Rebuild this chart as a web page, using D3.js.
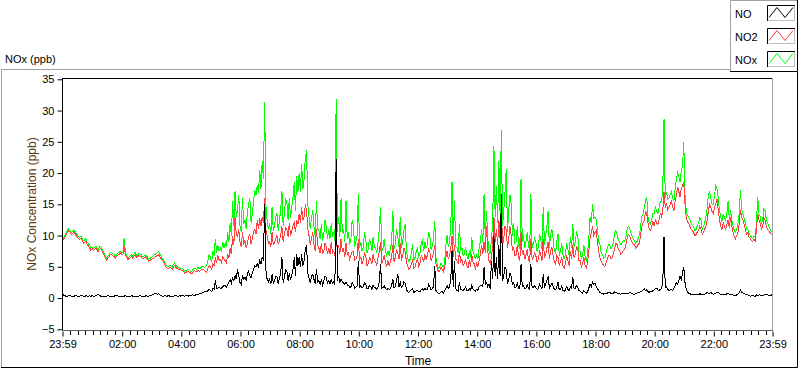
<!DOCTYPE html>
<html><head><meta charset="utf-8">
<script src="https://cdn.jsdelivr.net/npm/d3@7"></script>
<style>
html,body{margin:0;padding:0;background:#fff;}
svg{display:block;font-family:"Liberation Sans",Arial,sans-serif;}
</style>
</head><body>
<svg id="chart" width="800" height="369"></svg>
<script>
// ---------------- DATA ----------------
const seriesNames = ["NO", "NO2", "NOx"];
const startTime = new Date(2020, 0, 1, 23, 59);   // first sample 23:59
const stepSeconds = 150;                            // 2.5-minute samples
const xTickLabels = ["23:59","02:00","04:00","06:00","08:00","10:00","12:00","14:00","16:00","18:00","20:00","22:00","23:59"];
const yTickValues = [-5, 0, 5, 10, 15, 20, 25, 30, 35];

// NO2 (ppb), one row per hour (24 samples)
const NO2 = [
9.5,9.3,9.7,10.2,10.5,10.8,10.6,10.2,10.3,10.6,10.4,10.0,9.8,9.5,9.4,9.6,9.2,8.8,8.9,9.1,8.6,8.3,8.1,7.6,
7.9,7.6,7.8,8.0,7.7,7.4,7.8,7.9,7.5,7.1,6.8,6.3,6.0,6.4,6.7,7.0,6.9,6.7,6.6,6.4,6.7,6.9,7.0,7.2,
7.0,6.9,8.3,7.0,6.5,6.2,6.3,6.5,6.6,6.4,6.7,6.9,6.5,6.6,6.8,6.7,6.6,6.3,6.4,6.6,6.5,6.2,5.9,6.0,
6.2,6.3,6.4,6.6,6.7,6.8,6.9,6.6,6.3,6.0,5.8,5.4,5.0,4.8,4.7,4.9,4.8,4.6,5.0,5.2,4.9,4.7,4.6,4.5,
4.5,4.4,4.3,4.0,4.1,4.2,4.3,4.1,4.0,3.9,4.2,4.4,4.3,4.2,4.5,4.3,4.4,4.6,4.6,4.4,4.3,4.1,4.8,5.2,
5.0,4.6,5.5,5.2,6.5,5.6,6.8,6.0,6.2,5.7,6.6,6.2,6.0,5.6,7.0,6.4,8.0,7.0,10.0,8.5,13.0,10.0,9.8,11.0,
9.0,8.2,10.5,8.8,9.2,8.0,8.8,9.8,10.2,8.6,9.5,10.5,11.0,10.2,12.5,11.0,12.8,11.5,13.0,12.0,16.0,11.0,10.0,8.8,
9.0,8.2,10.5,8.5,8.8,9.5,10.0,8.6,9.2,10.0,11.5,9.0,10.2,11.2,11.0,9.8,12.0,10.0,10.8,11.5,12.0,10.5,12.5,11.8,
13.5,12.0,14.5,12.5,13.0,15.0,14.0,11.0,10.0,8.5,9.5,10.5,8.5,7.6,11.0,8.5,8.0,7.2,8.8,7.0,7.5,8.8,8.2,7.0,
8.0,7.0,9.0,7.2,7.5,6.8,10.0,7.5,8.5,7.0,9.5,7.5,7.8,6.5,8.8,7.0,7.2,6.2,6.8,7.5,7.5,6.0,6.2,6.8,
9.5,6.0,6.5,5.5,6.0,7.2,6.8,5.2,5.5,6.5,6.2,5.4,7.0,6.0,5.8,5.2,6.5,7.5,9.0,5.5,6.0,6.8,5.8,5.0,
6.0,5.2,5.8,6.5,8.5,5.8,6.5,7.8,7.2,6.2,8.8,6.0,6.8,8.0,7.5,5.8,5.2,4.6,4.8,5.5,6.0,4.8,5.0,5.8,
6.2,5.0,5.5,6.8,6.5,5.8,7.0,6.2,6.8,7.8,7.5,6.0,6.5,7.2,8.5,5.5,4.8,4.2,4.3,4.9,4.6,4.2,4.8,6.5,
7.5,6.2,6.8,8.0,10.0,6.5,8.5,6.2,6.0,5.5,7.5,5.8,6.2,5.2,5.5,6.2,5.2,4.8,6.0,5.0,7.0,5.8,5.5,4.8,
5.5,5.0,6.0,7.0,8.5,7.0,9.0,7.2,11.5,7.5,6.0,5.5,6.5,8.5,13.0,9.0,11.0,8.5,12.5,9.5,14.5,8.5,9.5,11.5,
11.0,8.0,9.5,11.5,10.0,7.5,8.0,6.8,7.0,8.5,6.5,6.0,10.5,7.0,7.5,6.2,6.8,7.8,6.2,5.8,9.5,6.2,6.5,7.2,
6.8,5.8,6.2,7.5,7.0,6.0,9.5,6.5,7.0,8.0,9.0,6.2,7.5,8.2,6.8,5.8,5.5,6.8,6.5,5.2,5.8,6.5,5.2,4.8,
5.5,6.8,6.0,5.2,7.5,6.2,8.5,6.5,7.0,8.2,8.0,6.0,6.0,5.0,5.5,6.5,5.2,4.8,5.8,7.5,9.5,10.5,11.5,10.0,
10.5,10.8,9.0,7.5,6.5,5.8,5.5,5.2,5.0,5.6,6.2,6.8,6.8,6.2,6.5,7.2,8.0,8.8,8.5,7.8,7.5,7.0,7.2,7.6,
7.8,8.5,9.5,10.2,10.0,9.4,9.0,8.6,8.5,8.0,8.2,8.6,8.8,10.0,11.5,12.0,12.5,13.8,13.5,12.0,11.0,10.8,11.5,12.2,
11.5,12.5,12.0,11.8,12.5,13.5,13.0,14.0,17.0,14.5,15.0,14.2,14.5,15.0,15.5,14.5,14.0,15.5,16.5,17.8,17.0,16.2,17.5,18.0,
18.5,15.0,13.0,12.2,12.0,11.5,11.0,10.8,10.5,10.0,10.2,10.6,10.8,11.5,11.0,10.2,10.5,11.0,11.5,12.5,14.0,15.0,14.5,13.8,
13.5,14.5,15.0,15.8,14.0,12.5,11.5,11.0,12.0,11.5,11.0,11.8,12.5,11.2,13.0,11.5,10.5,9.8,9.5,10.0,10.5,12.0,14.0,13.0,
12.5,11.8,11.0,10.2,10.5,9.8,9.5,9.2,9.0,9.4,9.2,11.0,13.5,12.5,12.0,11.0,11.5,12.8,12.5,11.5,11.0,10.8,10.5,10.2,
10.3
];

// NOx (ppb)
const NOx = [
9.8,9.6,10.1,10.5,10.9,11.1,10.9,10.5,10.6,10.9,10.7,10.3,10.1,9.8,9.7,9.9,9.6,9.2,9.3,9.5,8.9,8.7,8.5,8.0,
8.2,7.9,8.1,8.3,8.0,7.7,8.2,8.2,7.9,7.4,7.1,6.6,6.3,6.7,7.0,7.3,7.2,7.0,6.9,6.7,7.0,7.2,7.3,7.5,
7.3,7.2,9.6,7.3,6.8,6.5,6.6,6.8,6.9,6.7,7.1,7.3,6.8,6.9,7.2,7.0,6.9,6.6,6.7,6.9,6.8,6.5,6.2,6.3,
6.5,6.6,6.8,7.0,7.1,7.3,7.5,7.0,6.7,6.3,6.1,5.7,5.3,5.1,5.0,5.2,5.1,4.9,5.4,5.6,5.2,5.0,4.9,4.8,
4.8,4.7,4.6,4.3,4.4,4.5,4.6,4.4,4.3,4.3,4.6,4.8,4.7,4.6,4.9,4.7,4.8,5.0,5.1,4.9,5.0,5.3,6.0,7.0,
6.5,5.8,7.5,6.8,9.5,7.2,8.5,7.5,8.0,7.6,9.0,8.0,8.8,8.2,10.5,9.0,12.0,10.0,15.5,11.5,17.2,13.0,14.0,16.5,
11.5,10.5,16.0,11.8,12.5,11.0,13.8,15.0,16.0,12.0,13.5,15.5,17.2,16.5,18.0,16.8,20.5,17.5,22.0,19.0,31.3,15.0,12.5,11.0,
12.0,10.2,14.5,10.8,11.5,13.0,13.5,10.8,12.5,14.0,17.2,11.5,13.5,15.8,15.5,12.5,16.0,12.8,14.5,16.2,18.5,14.0,19.5,17.0,
20.0,17.0,21.5,17.5,19.0,22.5,23.6,15.0,13.0,11.0,12.8,14.0,11.5,9.8,15.6,11.0,10.8,9.5,11.8,9.2,10.2,12.5,11.5,9.5,
11.0,9.5,12.0,9.8,10.5,9.2,31.9,10.5,13.0,9.8,16.0,10.5,11.0,9.0,15.5,9.5,10.5,8.5,9.5,12.5,11.5,8.2,9.0,10.0,
16.7,8.0,9.0,7.5,8.2,10.5,9.5,7.2,7.8,9.5,8.8,7.5,9.8,8.2,8.0,7.2,9.0,11.0,14.6,7.5,8.0,9.5,7.5,6.8,
7.5,6.8,7.8,9.0,14.0,7.8,8.8,11.0,9.8,8.2,13.0,8.0,9.0,10.8,11.9,7.5,6.5,5.8,6.2,7.2,8.7,6.0,6.5,7.5,
8.0,6.5,7.2,8.8,9.2,7.5,9.0,8.0,8.5,10.5,10.0,7.8,8.2,9.5,12.4,6.5,5.4,4.8,5.0,5.6,5.3,4.8,5.6,8.5,
10.0,8.2,9.0,11.5,18.6,8.5,15.6,8.2,8.0,7.2,11.9,7.5,8.2,6.8,7.0,8.2,6.8,6.2,7.5,6.5,9.8,7.5,7.0,6.2,
7.0,6.2,8.0,9.0,11.0,9.0,16.7,9.5,14.0,9.5,7.5,7.0,9.5,12.0,24.3,13.0,18.0,12.0,22.0,13.5,26.9,11.5,14.0,17.0,
20.7,10.5,14.0,16.5,15.0,10.0,12.0,8.8,9.0,11.5,8.5,7.8,19.1,9.0,10.0,8.0,9.0,10.5,8.5,7.5,16.7,8.0,8.8,9.5,
9.0,7.5,8.2,10.2,9.5,7.8,14.6,8.5,10.0,11.5,14.0,8.0,10.2,11.0,9.5,7.5,7.2,9.0,10.3,6.8,7.5,8.8,7.0,6.2,
7.0,8.8,7.8,6.8,9.8,8.0,11.9,8.2,9.0,10.5,10.0,7.5,7.5,6.2,7.0,8.5,6.5,6.0,7.2,9.5,13.0,12.0,15.1,12.8,
13.0,12.5,11.0,9.0,8.5,7.2,7.0,6.4,6.5,7.2,8.0,8.6,8.5,7.8,8.2,9.0,10.5,10.8,10.2,9.2,9.0,8.5,8.8,9.2,
9.0,9.8,11.0,11.5,11.2,10.5,10.0,9.5,9.2,8.8,9.0,9.6,10.0,11.5,13.0,13.5,14.5,15.5,16.2,13.0,12.0,11.8,12.5,13.5,
13.5,14.5,14.0,13.5,14.5,15.5,15.5,17.5,28.7,16.0,17.0,15.8,16.0,16.5,17.0,16.0,15.5,17.5,19.0,20.0,19.5,18.5,20.5,21.0,
25.0,16.5,14.0,13.2,13.0,12.5,12.0,11.6,11.5,10.8,11.0,11.6,12.0,12.8,12.5,11.0,11.5,12.0,13.0,14.5,16.5,17.0,16.0,15.0,
15.0,16.5,18.0,17.5,16.0,14.0,13.0,12.2,13.5,12.8,12.5,13.5,15.6,12.5,14.0,12.5,11.5,10.8,10.5,11.0,12.0,13.5,17.3,14.0,
13.5,12.8,12.0,11.0,11.0,10.3,10.0,9.7,9.5,9.9,9.8,12.0,16.2,13.5,13.0,11.8,12.5,14.2,14.0,12.5,12.0,11.5,11.0,10.6,
10.8
];

// NO (ppb)
const NO = [
0.3,0.5,0.4,0.2,0.3,0.4,0.4,0.3,0.3,0.2,0.4,0.5,0.3,0.2,0.3,0.4,0.4,0.3,0.2,0.4,0.3,0.3,0.4,0.2,
0.4,0.3,0.3,0.4,0.5,0.6,0.4,0.3,0.3,0.2,0.2,0.3,0.3,0.4,0.3,0.2,0.2,0.3,0.3,0.4,0.4,0.3,0.3,0.2,
0.3,0.2,0.3,0.4,0.2,0.3,0.3,0.2,0.4,0.3,0.3,0.2,0.2,0.3,0.3,0.4,0.3,0.2,0.2,0.3,0.4,0.3,0.3,0.4,
0.4,0.5,0.6,0.7,0.8,0.6,0.7,0.5,0.4,0.3,0.3,0.4,0.3,0.3,0.4,0.3,0.3,0.2,0.3,0.4,0.4,0.3,0.3,0.4,
0.3,0.4,0.4,0.3,0.4,0.4,0.3,0.4,0.4,0.5,0.5,0.4,0.5,0.6,0.6,0.7,0.7,0.8,0.9,1.0,1.1,1.0,1.2,1.4,
1.2,1.0,1.6,1.4,2.8,1.5,1.6,1.8,1.5,1.6,1.8,2.0,2.0,1.7,2.2,2.5,2.9,2.4,3.2,2.8,3.6,3.0,4.6,3.5,
2.5,2.2,3.6,3.0,3.3,2.9,3.9,4.3,3.6,3.2,4.0,4.5,5.2,5.0,5.5,5.0,6.0,5.4,6.6,6.0,15.1,4.5,3.0,2.6,
3.0,2.2,3.8,2.4,2.7,3.4,3.4,2.3,3.2,4.0,6.6,2.5,3.3,4.5,4.4,2.8,4.0,2.9,3.7,4.6,6.5,3.5,7.0,5.2,
6.5,5.0,7.0,5.2,6.0,7.8,8.5,4.0,3.2,2.5,3.5,3.8,3.0,2.3,4.6,2.6,2.8,2.2,3.0,2.1,2.7,3.5,3.3,2.4,
2.8,2.3,3.0,2.4,2.6,2.2,22.3,2.8,3.5,2.5,3.0,2.6,2.4,2.2,2.6,2.1,2.0,1.7,1.8,2.5,2.2,1.6,1.7,1.9,
6.0,1.8,2.0,1.6,1.8,2.4,2.2,1.5,1.5,2.0,1.9,1.4,2.1,1.7,1.6,1.4,1.8,2.6,5.5,1.6,1.7,2.0,1.5,1.3,
1.6,1.4,1.5,2.0,3.0,1.6,1.8,2.8,3.9,1.8,2.5,1.7,1.9,2.6,2.4,1.4,1.0,0.9,1.1,1.3,1.5,0.9,1.0,1.2,
1.2,1.0,1.0,1.4,1.5,1.2,1.6,1.3,1.4,2.2,1.9,1.3,1.5,1.8,5.2,1.2,0.9,0.7,0.8,1.0,1.0,0.8,1.1,1.6,
2.0,1.6,1.8,3.0,7.6,1.8,6.0,1.6,1.2,1.1,2.5,1.4,1.3,1.2,1.4,1.8,1.2,1.1,1.5,1.2,2.0,1.5,1.3,1.1,
1.4,1.2,1.8,2.0,2.0,1.8,5.0,2.2,2.5,1.8,2.2,1.5,6.0,3.0,9.9,3.5,6.5,3.0,8.5,3.5,16.7,2.8,3.5,5.0,
4.5,2.2,3.0,4.0,3.5,2.2,2.5,1.7,1.8,2.4,1.6,1.5,5.4,1.8,2.0,1.5,1.6,2.2,1.5,1.4,5.4,1.6,1.7,2.0,
1.6,1.4,1.5,2.2,1.8,1.5,3.8,1.7,2.2,2.8,3.5,1.6,2.0,2.4,1.9,1.4,1.3,1.8,2.5,1.3,1.4,1.9,1.2,1.1,
1.3,1.8,1.4,1.2,1.8,1.5,3.4,1.6,1.6,2.0,1.8,1.2,1.1,0.9,0.8,1.2,0.9,0.8,1.0,1.6,2.2,1.8,2.6,2.2,
2.4,1.8,1.5,1.2,0.9,0.8,0.8,0.6,0.7,0.8,0.8,0.9,0.9,0.7,0.7,0.8,1.0,0.9,0.8,0.7,0.7,0.6,0.8,0.7,
0.7,0.8,0.8,0.7,0.9,0.8,0.7,0.6,0.6,0.7,0.8,0.9,0.9,1.0,1.1,1.3,1.5,1.2,1.3,1.0,0.9,1.1,1.0,1.2,
1.3,1.5,1.6,1.3,1.2,1.4,1.5,2.5,9.8,1.6,1.8,1.4,1.2,1.3,1.4,1.2,1.5,2.0,2.5,2.2,2.8,3.5,3.0,4.0,
5.0,2.5,1.5,1.0,0.8,0.7,0.6,0.6,0.6,0.5,0.5,0.6,0.5,0.7,0.6,0.5,0.5,0.6,0.7,0.9,0.8,0.7,0.9,0.7,
0.6,0.7,0.8,0.9,0.9,0.7,0.6,0.5,0.5,0.6,0.5,0.7,0.8,0.6,0.6,0.5,0.5,0.4,0.4,0.5,0.6,0.8,1.3,0.9,
0.8,0.7,0.6,0.5,0.5,0.4,0.3,0.4,0.4,0.3,0.3,0.5,0.4,0.5,0.5,0.4,0.4,0.5,0.6,0.5,0.5,0.4,0.4,0.5,
0.4
];

// ---------------- STYLE / LAYOUT ----------------
const colors = {NO: "#000000", NO2: "#ff4040", NOx: "#00ff00"};
const plot = {left: 62, right: 773, top: 78, bottom: 330};

const svg = d3.select("#chart");

const times = NO.map((_, i) => d3.timeSecond.offset(startTime, i * stepSeconds));
const endTime = times[times.length - 1];

const x = d3.scaleTime().domain([startTime, endTime]).range([plot.left + 0.5, plot.right - 0.5]);
const y = d3.scaleLinear().domain([-5, 35]).range([329.3, 79.3]);

// outer panel frame (3D look)
svg.append("rect").attr("x", 0).attr("y", 0).attr("width", 800).attr("height", 369).attr("fill", "#fff");
svg.append("path").attr("d", "M1.5,368 V69.5 H730").attr("fill", "none").attr("stroke", "#a0a0a0");
svg.append("path").attr("d", "M1,367.5 H797.5 V72").attr("fill", "none").attr("stroke", "#000");

// panel title
svg.append("text").attr("x", 5).attr("y", 63).attr("font-size", 11).attr("fill", "#000").text("NOx (ppb)");

// clip
svg.append("clipPath").attr("id", "clip").append("rect")
  .attr("x", plot.left + 1).attr("y", plot.top + 1)
  .attr("width", plot.right - plot.left - 1).attr("height", plot.bottom - plot.top - 1);

const line = d3.line().x((d, i) => x(times[i])).y(d => y(d));
const g = svg.append("g").attr("clip-path", "url(#clip)");
[["NOx", NOx], ["NO2", NO2], ["NO", NO]].forEach(([name, arr]) => {
  g.append("path").datum(arr).attr("d", line)
    .attr("fill", "none").attr("stroke", colors[name]).attr("stroke-width", 1)
    .attr("shape-rendering", "crispEdges");
});

// plot frame: top black, right gray
svg.append("line").attr("x1", plot.left).attr("x2", plot.right).attr("y1", plot.top + 0.5).attr("y2", plot.top + 0.5).attr("stroke", "#000");
svg.append("line").attr("x1", plot.right - 0.5).attr("x2", plot.right - 0.5).attr("y1", plot.top).attr("y2", plot.bottom + 1).attr("stroke", "#a0a0a0");

// y axis
const yAxis = d3.axisLeft(y).tickValues(yTickValues).tickSize(5).tickPadding(3).tickSizeOuter(0);
const ya = svg.append("g").attr("transform", `translate(${plot.left + 0.5},0)`).call(yAxis);
ya.select(".domain").attr("d", `M0,${plot.top} V${plot.bottom + 1}`).attr("stroke", "#000");
ya.selectAll("text").attr("font-size", 11).attr("font-family", "Liberation Sans, Arial, sans-serif").attr("fill", "#000");
ya.selectAll(".tick line").attr("stroke", "#000");

// x axis: major ticks
const xTickDates = xTickLabels.map((lab, i) => {
  if (i === 0) return startTime;
  if (i === xTickLabels.length - 1) return endTime;
  const [h, m] = lab.split(":").map(Number);
  return new Date(2020, 0, 2, h, m);
});
const xAxis = d3.axisBottom(x).tickValues(xTickDates).tickSize(6).tickPadding(4)
  .tickFormat((d, i) => xTickLabels[i]).tickSizeOuter(0);
const xa = svg.append("g").attr("transform", `translate(0,${plot.bottom + 0.5})`).call(xAxis);
xa.select(".domain").attr("d", `M${plot.left},0 H${plot.right}`).attr("stroke", "#606060");
xa.selectAll("text").attr("font-size", 11).attr("font-family", "Liberation Sans, Arial, sans-serif").attr("fill", "#000");
xa.selectAll(".tick line").attr("stroke", "#000").attr("y1", 1);

// minor ticks every 15 min
const minorDates = d3.timeMinute.every(15).range(d3.timeMinute.offset(startTime, 1), endTime)
  .filter(d => !(d.getMinutes() === 0 && d.getHours() % 2 === 0));
svg.append("g").selectAll("line").data(minorDates).join("line")
  .attr("x1", d => Math.round(x(d)) + 0.5).attr("x2", d => Math.round(x(d)) + 0.5)
  .attr("y1", plot.bottom + 1).attr("y2", plot.bottom + 5).attr("stroke", "#000");

// axis titles
svg.append("text").attr("x", 418).attr("y", 365).attr("text-anchor", "middle").attr("font-size", 12).attr("fill", "#000").text("Time");
svg.append("text").attr("transform", "translate(36,204) rotate(-90)").attr("text-anchor", "middle")
  .attr("font-size", 12).attr("fill", "#5c3b12").text("NOx Concentration (ppb)");

// legend
const lg = svg.append("g");
lg.append("rect").attr("x", 730.5).attr("y", 0.5).attr("width", 67).attr("height", 71).attr("fill", "#fff").attr("stroke", "none");
lg.append("path").attr("d", "M730.5,72 V0.5 H798").attr("fill", "none").attr("stroke", "#a0a0a0");
lg.append("path").attr("d", "M730,71.5 H797.5 V0").attr("fill", "none").attr("stroke", "#000");
seriesNames.forEach((name, i) => {
  const top = 5 + i * 23;
  lg.append("text").attr("x", 735).attr("y", top + 12.5).attr("font-size", 11).attr("fill", "#000").text(name);
  lg.append("rect").attr("x", 767.5).attr("y", top + 0.5).attr("width", 27).attr("height", 15).attr("fill", "#fff").attr("stroke", "none");
  lg.append("path").attr("d", `M767.5,${top + 16} V${top + 0.5} H795`).attr("fill", "none").attr("stroke", "#000");
  lg.append("path").attr("d", `M768,${top + 15.5} H794.5 V${top + 1}`).attr("fill", "none").attr("stroke", "#c0c0c0");
  lg.append("path").attr("d", `M769,${top + 12.5} L777,${top + 2.5} L785,${top + 12.5} L793,${top + 2.5}`)
    .attr("fill", "none").attr("stroke", colors[name]).attr("stroke-width", 1);
});
</script>
</body></html>
